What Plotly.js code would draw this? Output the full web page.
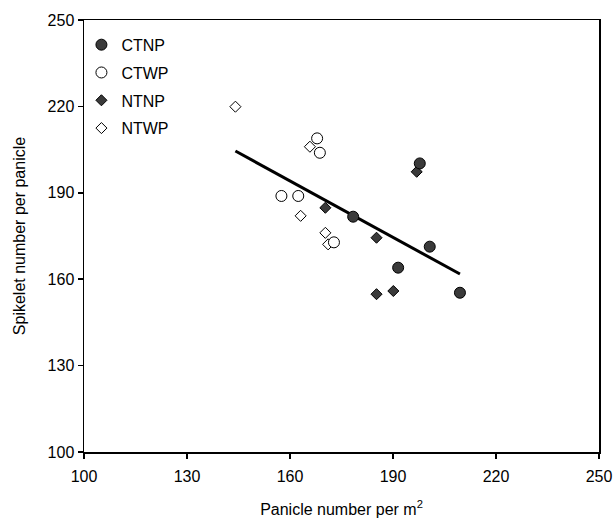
<!DOCTYPE html>
<html>
<head>
<meta charset="utf-8">
<script src="https://cdn.plot.ly/plotly-3.0.1.min.js"></script>
<style>html,body{margin:0;padding:0;background:#fff;}#chart{width:613px;height:518px;}</style>
</head>
<body>
<div id="chart"></div>
<script>
// Data
var ctnpX = [178.4, 197.8, 200.7, 191.5, 209.5];
var ctnpY = [181.7, 200.2, 171.3, 164.0, 155.3];
var ctwpX = [167.9, 168.7, 157.5, 162.4, 172.8];
var ctwpY = [208.9, 203.9, 188.9, 188.9, 172.8];
var ntnpX = [170.3, 185.2, 196.9, 185.2, 190.1];
var ntnpY = [184.8, 174.4, 197.3, 154.8, 155.9];
var ntwpX = [144.1, 165.8, 163.1, 170.3, 171.1];
var ntwpY = [219.9, 206.0, 182.0, 176.1, 172.1];
var fitX = [144.1, 209.5];
var fitY = [204.5, 161.8];
var tickVals = [100, 130, 160, 190, 220, 250];

var dark = '#3a3a3a';
var font = {family: 'Liberation Sans, Arial, sans-serif', size: 16, color: '#000'};

var traces = [
  {x: fitX, y: fitY, mode: 'lines', line: {color: '#000', width: 3}, showlegend: false, hoverinfo: 'skip'},
  {x: ntwpX, y: ntwpY, name: 'NTWP', mode: 'markers', legendgroup: 'd', legendrank: 4,
   marker: {symbol: 'diamond', size: 8.5, color: '#fff', line: {color: '#000', width: 1}}},
  {x: ntnpX, y: ntnpY, name: 'NTNP', mode: 'markers', legendgroup: 'c', legendrank: 3,
   marker: {symbol: 'diamond', size: 8.5, color: dark, line: {color: '#000', width: 1}}},
  {x: ctwpX, y: ctwpY, name: 'CTWP', mode: 'markers', legendgroup: 'b', legendrank: 2,
   marker: {symbol: 'circle', size: 11, color: '#fff', line: {color: '#000', width: 1}}},
  {x: ctnpX, y: ctnpY, name: 'CTNP', mode: 'markers', legendgroup: 'a', legendrank: 1,
   marker: {symbol: 'circle', size: 11, color: dark, line: {color: '#000', width: 1}}}
];

var axisCommon = {
  tickvals: tickVals, ticktext: tickVals.map(String),
  showgrid: false, zeroline: false,
  showline: true, linecolor: '#000', linewidth: 1.5, mirror: true,
  ticks: 'outside', ticklen: 5, tickwidth: 1.5, tickcolor: '#000',
  tickfont: font, automargin: false
};

var layout = {
  width: 613, height: 518,
  margin: {l: 84, r: 14, t: 20, b: 66},
  paper_bgcolor: '#fff', plot_bgcolor: '#fff',
  font: font,
  xaxis: Object.assign({}, axisCommon, {
    range: [100, 250], ticklabelstandoff: 4,
    title: {text: 'Panicle number per m<sup>2</sup>', font: font, standoff: 22}
  }),
  yaxis: Object.assign({}, axisCommon, {
    range: [100, 250],
    title: {text: 'Spikelet number per panicle', font: font, standoff: 18}
  }),
  legend: {
    x: -0.005, y: 0.982, xanchor: 'left', yanchor: 'top',
    bgcolor: 'rgba(0,0,0,0)', borderwidth: 0,
    font: font, traceorder: 'grouped', tracegroupgap: 4,
    itemsizing: 'trace', itemwidth: 30
  },
  showlegend: true
};

Plotly.newPlot('chart', traces, layout, {displayModeBar: false, staticPlot: true});
</script>
</body>
</html>
